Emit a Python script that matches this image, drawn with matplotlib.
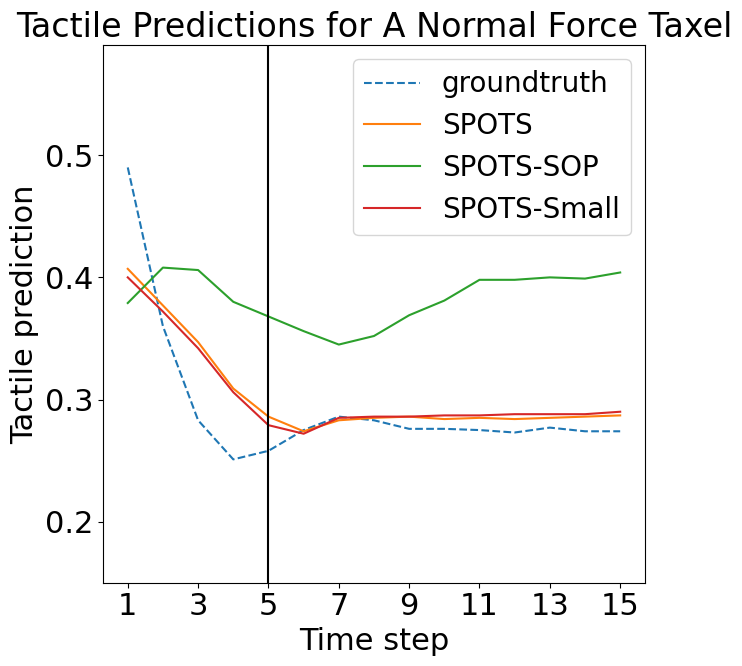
import numpy as np
import matplotlib
matplotlib.use("Agg")
import matplotlib.pyplot as plt

time_steps = list(range(1, 16))

groundtruth = [0.490, 0.360, 0.283, 0.251, 0.258, 0.275, 0.286, 0.283, 0.276, 0.276,
               0.275, 0.273, 0.277, 0.274, 0.274]
spots = [0.407, 0.377, 0.347, 0.309, 0.286, 0.274, 0.283, 0.285, 0.286, 0.284,
         0.285, 0.284, 0.285, 0.286, 0.287]
spots_sop = [0.379, 0.408, 0.406, 0.380, 0.368, 0.356, 0.345, 0.352, 0.369, 0.381,
             0.398, 0.398, 0.400, 0.399, 0.404]
spots_small = [0.400, 0.372, 0.342, 0.306, 0.279, 0.272, 0.285, 0.286, 0.286, 0.287,
               0.287, 0.288, 0.288, 0.288, 0.290]

x_ticks = [1, 3, 5, 7, 9, 11, 13, 15]
y_ticks = [0.2, 0.3, 0.4, 0.5]
context_end = 5

fig, ax = plt.subplots(figsize=(7.42, 6.66), dpi=100)
fig.subplots_adjust(left=0.139, right=0.869, top=0.932, bottom=0.125)

ax.plot(time_steps, groundtruth, linestyle='--', color='tab:blue', label='groundtruth')
ax.plot(time_steps, spots, color='tab:orange', label='SPOTS')
ax.plot(time_steps, spots_sop, color='tab:green', label='SPOTS-SOP')
ax.plot(time_steps, spots_small, color='tab:red', label='SPOTS-Small')

# end of context frames
ax.axvline(context_end, color='black', linewidth=1.5)

ax.set_ylim(0.15, 0.59)
ax.set_xticks(x_ticks)
ax.set_yticks(y_ticks)
ax.tick_params(labelsize=22)
ax.set_xlabel('Time step', fontsize=22)
ax.set_ylabel('Tactile prediction', fontsize=22)
ax.set_title('Tactile Predictions for A Normal Force Taxel', fontsize=24)
ax.legend(loc='upper right', fontsize=20)

fig.savefig('out.png', dpi=100)
